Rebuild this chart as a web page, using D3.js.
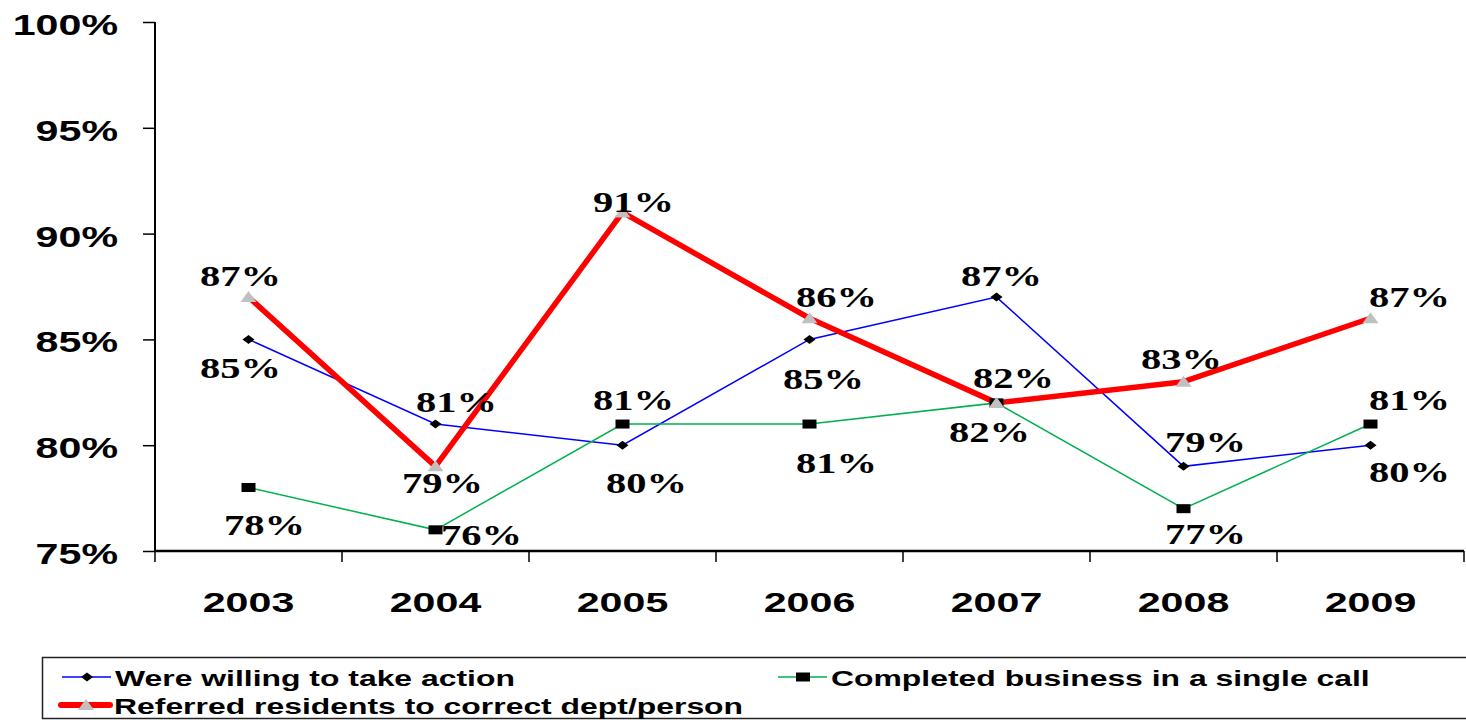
<!DOCTYPE html>
<html>
<head>
<meta charset="utf-8">
<script src="https://cdn.jsdelivr.net/npm/d3@7"></script>
<style>
  body { margin: 0; background: #fff; }
  svg { display: block; }
</style>
</head>
<body>
<div id="chart"></div>
<script>
// data
const years = ["2003", "2004", "2005", "2006", "2007", "2008", "2009"]
const willing = [85, 81, 80, 85, 87, 79, 80]
const completed = [78, 76, 81, 81, 82, 77, 81]
const referred = [87, 79, 91, 86, 82, 83, 86]
const willingLabels = ["85%", "81%", "80%", "85%", "87%", "79%", "80%"]
const completedLabels = ["78%", "76%", "81%", "81%", "82%", "77%", "81%"]
const referredLabels = ["87%", "79%", "91%", "86%", "82%", "83%", "87%"]
const yTicks = [75, 80, 85, 90, 95, 100]
const seriesNames = [
  "Were willing to take action",
  "Completed business in a single call",
  "Referred residents to correct dept/person"
]

// label nudges (layout only): [dx, dy] from point to label centre/baseline
const nudgeWilling = [[-8, 39], [21, -12], [24, 48], [14, 50], [5, -11], [22, -14], [39, 37]]
const nudgeCompleted = [[16, 47], [46, 15], [11, -14], [27, 49], [-7, 39], [22, 35], [39, -14]]
const nudgeReferred = [[-8, -11], [7, 27], [11, 0], [27, -11], [17, -15], [-2, -13], [39, -11]]

const width = 1466
const height = 720
const plot = { left: 155, right: 1464, top: 22, bottom: 551 }
const sans = "'Liberation Sans', Arial, sans-serif"
const serif = "'Liberation Serif', 'Times New Roman', serif"

const svg = d3.select("#chart").append("svg")
  .attr("width", width)
  .attr("height", height)

const xScale = d3.scaleBand()
  .domain(years)
  .range([plot.left, plot.right])
const yScale = d3.scaleLinear()
  .domain([75, 100])
  .range([plot.bottom, plot.top])
const cx = d => xScale(d) + xScale.bandwidth() / 2

// stretched text helper (the picture is wider than tall)
function stretchText(g, x, y, txt, opts) {
  const sx = opts.sx || 1.45
  return g.append("text")
    .attr("transform", `translate(${x},${y}) scale(${sx},1)`)
    .attr("text-anchor", opts.anchor || "middle")
    .attr("font-family", opts.family || sans)
    .attr("font-weight", "bold")
    .attr("font-size", opts.size)
    .attr("fill", "#000")
    .text(txt)
}

// y axis
const yAxis = svg.append("g")
  .attr("transform", `translate(${plot.left},0)`)
  .call(d3.axisLeft(yScale).tickValues(yTicks).tickSize(12).tickFormat(""))
yAxis.select(".domain").attr("stroke", "#000").attr("stroke-width", 2)
  .attr("d", `M0,${plot.top}V${plot.bottom}`)
yAxis.selectAll(".tick line").attr("stroke", "#000").attr("stroke-width", 1.5)
yTicks.forEach(t => {
  stretchText(svg, 118, yScale(t) + 13, t + "%", { anchor: "end", size: 29, sx: 1.42 })
})

// x axis
const xAxis = svg.append("g")
  .attr("transform", `translate(0,${plot.bottom})`)
  .call(d3.axisBottom(xScale).tickSize(0).tickFormat(""))
xAxis.select(".domain").attr("stroke", "#000").attr("stroke-width", 2.5)
  .attr("d", `M${plot.left},0H${plot.right}`)
const bounds = years.map(d => xScale(d)).concat([plot.right])
bounds.forEach(b => {
  xAxis.append("line")
    .attr("x1", b).attr("x2", b)
    .attr("y1", 0).attr("y2", 11)
    .attr("stroke", "#000").attr("stroke-width", 1.5)
})
years.forEach(d => {
  stretchText(svg, cx(d), 612, d, { size: 28, sx: 1.47 })
})

// lines
const line = vals => d3.line()
  .x((v, i) => cx(years[i]))
  .y(v => yScale(v))(vals)

svg.append("path").attr("d", line(willing))
  .attr("fill", "none").attr("stroke", "#0000ff").attr("stroke-width", 1.5)
svg.append("path").attr("d", line(completed))
  .attr("fill", "none").attr("stroke", "#00b050").attr("stroke-width", 1.5)
svg.append("path").attr("d", line(referred))
  .attr("fill", "none").attr("stroke", "#ff0000").attr("stroke-width", 5.5)
  .attr("stroke-linejoin", "round")

// markers
const diamond = "M0,-4.5L6,0L0,4.5L-6,0Z"
const square = "M-7,-4.5H7V4.5H-7Z"
const triangle = "M0,-6L8,5H-8Z"

willing.forEach((v, i) => {
  svg.append("path").attr("d", diamond)
    .attr("transform", `translate(${cx(years[i])},${yScale(v)})`)
    .attr("fill", "#000")
})
completed.forEach((v, i) => {
  svg.append("path").attr("d", square)
    .attr("transform", `translate(${cx(years[i])},${yScale(v)})`)
    .attr("fill", "#000")
})
referred.forEach((v, i) => {
  svg.append("path").attr("d", triangle)
    .attr("transform", `translate(${cx(years[i])},${yScale(v)})`)
    .attr("fill", "#c0c0c0")
})

// data labels
function drawLabels(vals, labels, nudge) {
  vals.forEach((v, i) => {
    stretchText(svg, cx(years[i]) + nudge[i][0], yScale(v) + nudge[i][1], labels[i],
      { family: serif, size: 30, sx: 1.35 })
  })
}
drawLabels(willing, willingLabels, nudgeWilling)
drawLabels(completed, completedLabels, nudgeCompleted)
drawLabels(referred, referredLabels, nudgeReferred)

// legend
const legend = svg.append("g")
legend.append("rect")
  .attr("x", 42.5).attr("y", 657.5)
  .attr("width", 1500).attr("height", 61)
  .attr("fill", "none").attr("stroke", "#222").attr("stroke-width", 1.5)

function legendItem(x, y, color, sw, marker, fill, name) {
  legend.append("line")
    .attr("x1", x - 25).attr("x2", x + 24)
    .attr("y1", y).attr("y2", y)
    .attr("stroke", color).attr("stroke-width", sw)
    .attr("stroke-linecap", sw > 3 ? "round" : "butt")
  legend.append("path").attr("d", marker)
    .attr("transform", `translate(${x},${y})`)
    .attr("fill", fill)
  stretchText(legend, x + 28, y + 9, name, { anchor: "start", size: 22, sx: 1.45 })
}
legendItem(87, 677, "#0000ff", 1.5, diamond, "#000", seriesNames[0])
legendItem(803, 677, "#00b050", 1.5, square, "#000", seriesNames[1])
legendItem(86, 705, "#ff0000", 6, triangle, "#c0c0c0", seriesNames[2])
</script>
</body>
</html>
